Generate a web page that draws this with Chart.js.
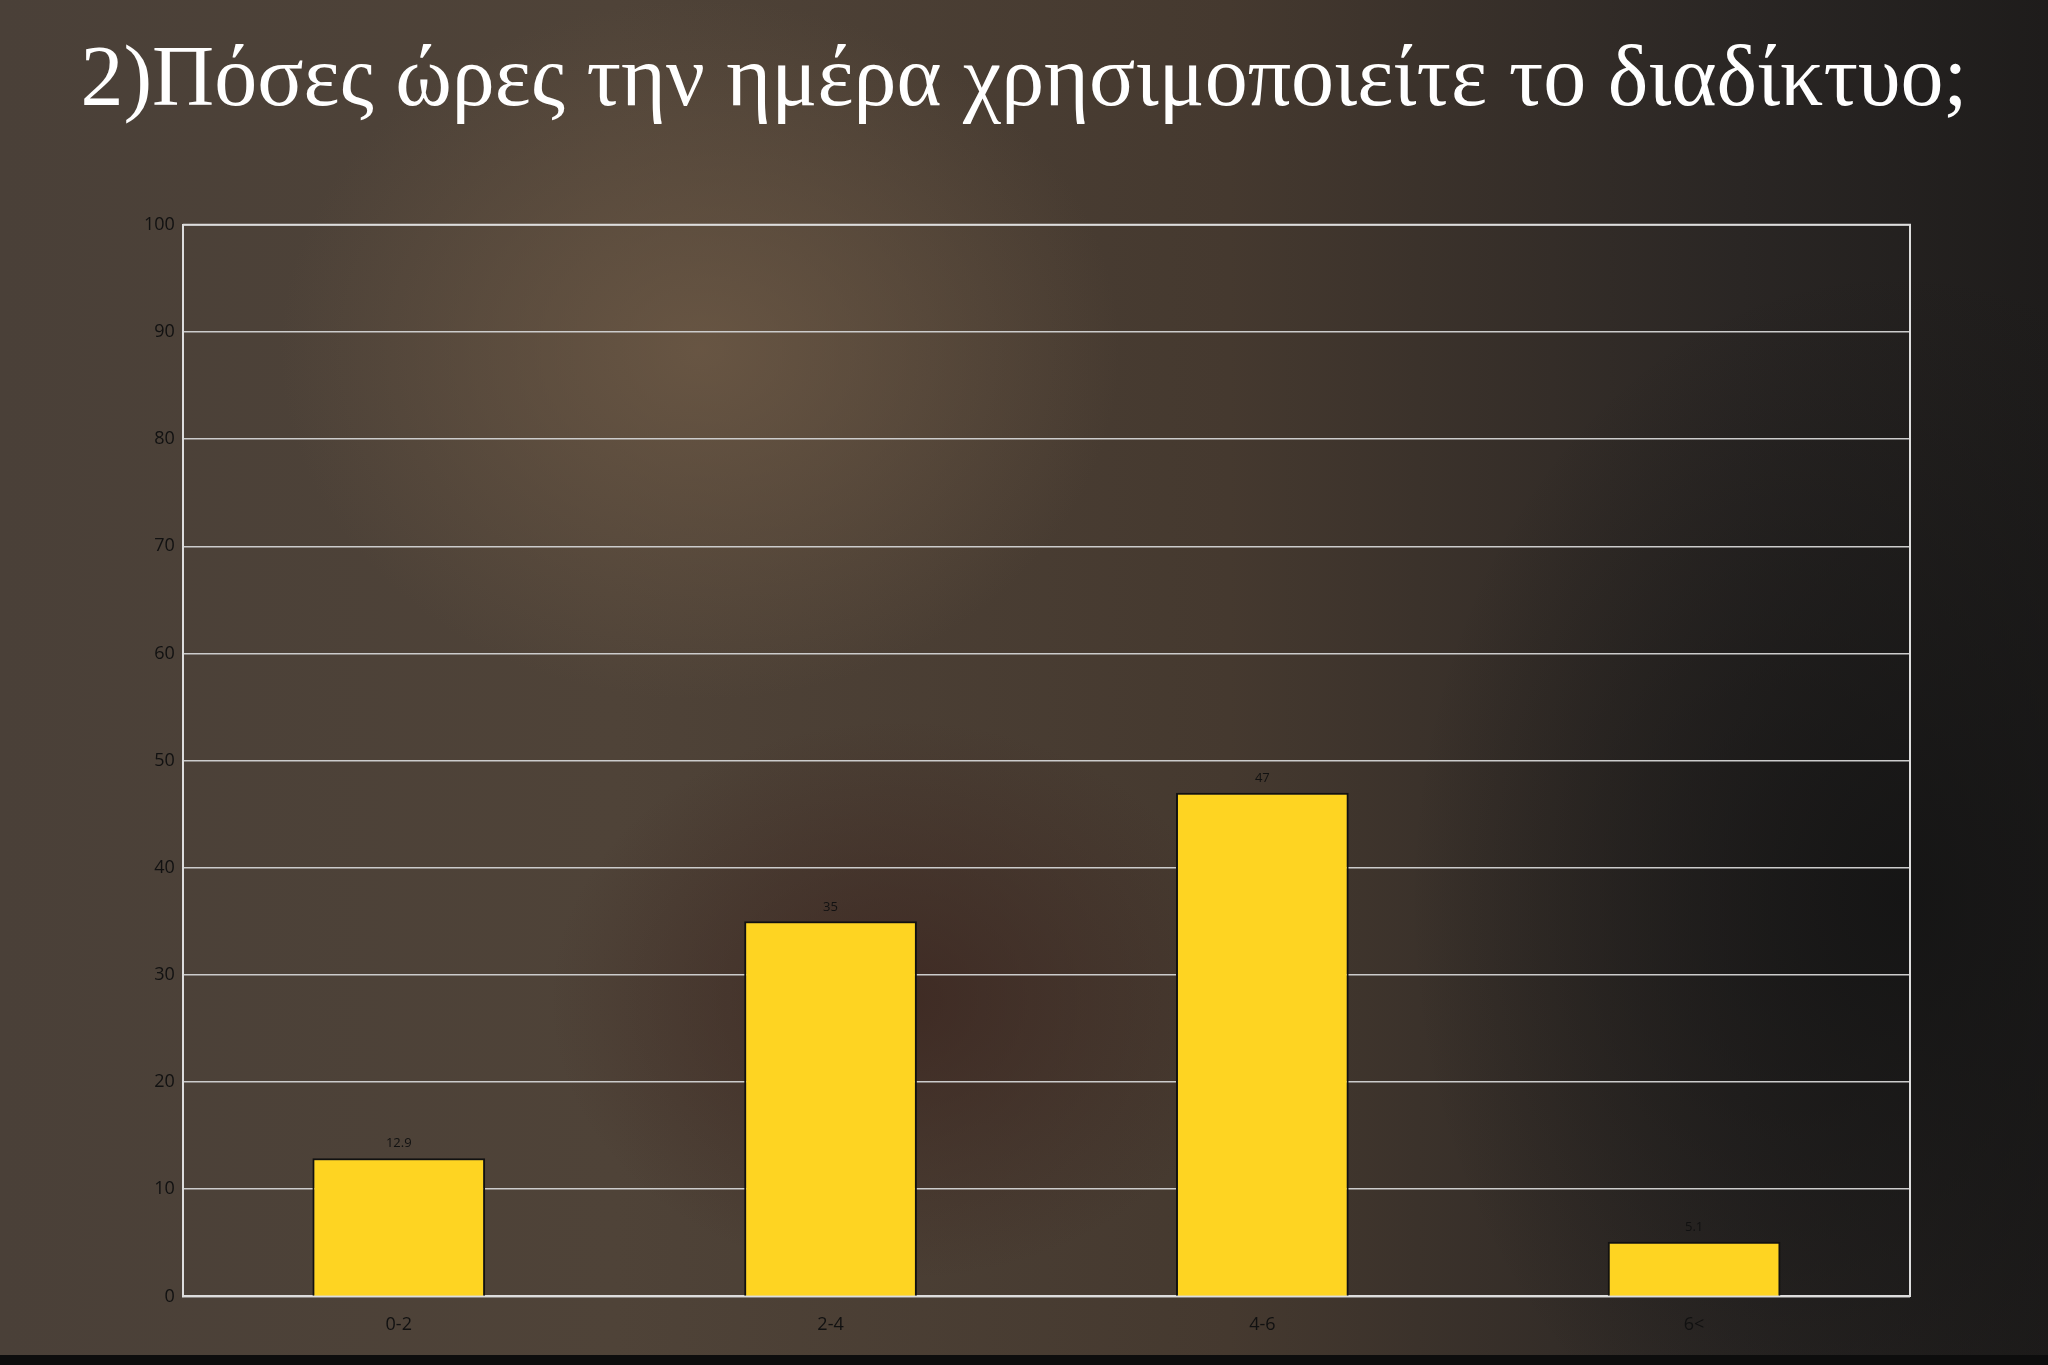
<!DOCTYPE html>
<html><head><meta charset="utf-8">
<script src="https://cdn.jsdelivr.net/npm/chart.js@4"></script>
<style>
html,body{margin:0;padding:0;width:2048px;height:1365px;overflow:hidden}
body{background:
 radial-gradient(ellipse 700px 900px at 1900px 900px, rgba(20,20,20,0.9), rgba(20,20,20,0) 70%),
 radial-gradient(ellipse 600px 500px at 700px 350px, rgba(110,90,70,0.8), rgba(110,90,70,0) 70%),
 radial-gradient(ellipse 500px 400px at 900px 1000px, rgba(60,38,32,0.8), rgba(60,38,32,0) 70%),
 linear-gradient(90deg,#4a4038 0%,#4f4338 30%,#45392f 60%,#2a2624 85%,#1e1c1b 100%);position:relative}
#title{position:absolute;left:0;top:26px;width:2048px;text-align:center;color:#fff;font-family:"Liberation Serif","DejaVu Serif",serif;font-size:86px;line-height:100px}
#wrap{position:absolute;left:136px;top:206px;width:1794px;height:1140px}
#strip{position:absolute;left:0;top:1355px;width:2048px;height:10px;background:#0d0d0d}
</style></head><body>
<div id="title">2)Πόσες ώρες την ημέρα χρησιμοποιείτε το διαδίκτυο;</div>
<div id="wrap"><canvas id="c"></canvas></div>
<div id="strip"></div>
<script>
const categories=["0-2","2-4","4-6","6<"];
const values=[12.9,35,47,5.1];
const labelsPlugin={id:'vl',afterDatasetsDraw(ch){const ctx=ch.ctx;const m=ch.getDatasetMeta(0);ctx.save();ctx.fillStyle='#111';ctx.font='13px "Open Sans"';ctx.textAlign='center';ctx.textBaseline='bottom';m.data.forEach((b,i)=>ctx.fillText(String(values[i]),b.x,b.y-8));
const a=ch.chartArea;ctx.strokeStyle='#ddd';ctx.lineWidth=2;ctx.beginPath();ctx.moveTo(a.left,a.top);ctx.lineTo(a.right,a.top);ctx.lineTo(a.right,a.bottom);ctx.stroke();ctx.restore();}};
new Chart(document.getElementById('c'),{type:'bar',
data:{labels:categories,datasets:[{data:values,backgroundColor:'#fed422',borderColor:'#111',borderWidth:2,categoryPercentage:1,barPercentage:0.4}]},
plugins:[labelsPlugin],
options:{responsive:true,maintainAspectRatio:false,animation:false,
layout:{padding:{top:12,right:20,bottom:0,left:0}},
plugins:{legend:{display:false},tooltip:{enabled:false}},
scales:{
 x:{grid:{display:false},border:{color:'#ddd',width:2},ticks:{color:'#111',font:{family:'Open Sans',size:18},padding:10}},
 y:{min:0,max:100,grid:{color:'#ccc',lineWidth:1.5,drawTicks:false},border:{color:'#ddd',width:2},ticks:{stepSize:10,color:'#111',font:{family:'Open Sans',size:18},padding:8}}
}}});
</script>
</body></html>
